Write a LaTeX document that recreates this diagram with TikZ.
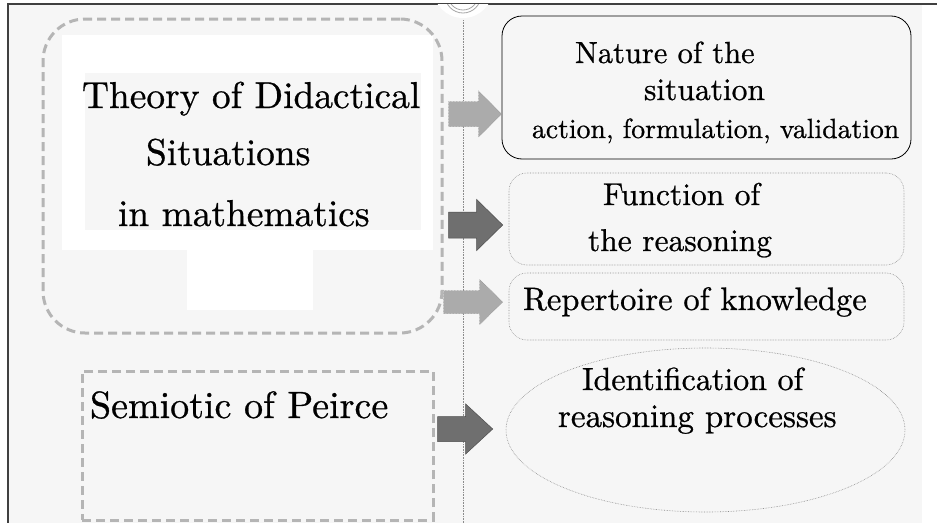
\documentclass[tikz,border=0pt]{standalone}
\usepackage{fontspec}
\setmainfont{lmroman10-regular.otf}[FakeBold=0.7]
\usetikzlibrary{shapes.geometric,calc}
\definecolor{bgg}{HTML}{F6F6F6}
\definecolor{dashg}{HTML}{B5B5B5}
\definecolor{lightarr}{HTML}{ABABAB}
\definecolor{lightarrb}{HTML}{8E8E8E}
\definecolor{darkarr}{HTML}{6F6F6F}
\definecolor{darkarrb}{HTML}{4E4E4E}
\definecolor{dotg}{HTML}{8C8C8C}
\newcommand{\blockarr}[6]{%
  \filldraw[#1] ($(#2)+(0,-#4)$) -- ($(#3)+(-#6,-#4)$) -- ($(#3)+(-#6,-#5)$) -- (#3)
    -- ($(#3)+(-#6,#5)$) -- ($(#3)+(-#6,#4)$) -- ($(#2)+(0,#4)$) -- cycle;}
\begin{document}
\begin{tikzpicture}[x=1pt,y=-1pt,
  thickdash/.style={draw=dashg, line width=3pt, dash pattern=on 9pt off 5pt},
  dotbox/.style={draw=dotg, line width=0.6pt, densely dotted, rounded corners=18pt, fill=bgg},
  txt/.style={anchor=base west, inner sep=0pt, outer sep=0pt},
  lightA/.style={fill=lightarr, draw=lightarrb, line width=0.5pt, densely dotted},
  darkA/.style={fill=darkarr, draw=darkarrb, line width=0.5pt}]
\useasboundingbox (0,0) rectangle (937,525);
\fill[white] (0,0) rectangle (937,525);
% background panel
\fill[bgg] (8,4) rectangle (922,523);
% white patches behind title text
\fill[white] (62,35) rectangle (433,250);
\fill[bgg] (85,73) rectangle (421,230);
\fill[white] (187,250) rectangle (313,310);
% frame lines
\draw[line width=1.2pt, black!75] (937,4) -- (8,4) -- (8,523);
% top ornament
\begin{scope}
\clip (8,4) rectangle (937,60);
\fill[white] (463,-12) circle (30);
\draw[gray!70, line width=0.8pt] (463,-5) circle (18);
\draw[gray!70, line width=0.8pt] (463,-5) circle (15);
\end{scope}
% vertical divider
\draw[dotg, line width=0.6pt, densely dotted] (463,20) -- (463,523);
% left boxes
\node[thickdash, rounded corners=42pt, minimum width=399pt, minimum height=314pt, inner sep=0pt] (tds) at (242.5,176) {};
\node[thickdash, minimum width=351pt, minimum height=149pt, inner sep=0pt] (sem) at (257.5,445.5) {};
% right boxes
\node[draw=black, line width=0.8pt, rounded corners=20pt, fill=bgg, minimum width=409pt, minimum height=143pt, inner sep=0pt] (nat) at (706.5,87.5) {};
\node[dotbox, minimum width=395pt, minimum height=92pt, inner sep=0pt] (fun) at (706.5,219) {};
\node[dotbox, minimum width=395pt, minimum height=67pt, inner sep=0pt] (rep) at (706.5,306.5) {};
\node[ellipse, draw=dotg, line width=0.6pt, densely dotted, fill=bgg, minimum width=399pt, minimum height=164pt, inner sep=0pt] (ide) at (705.5,430) {};
% texts
\node[txt, font=\fontsize{37.4}{40}\selectfont] (t1) at (82,108) {Theory of Didactical};
\node[txt, font=\fontsize{37.4}{40}\selectfont] (t2) at (146,165) {Situations};
\node[txt, font=\fontsize{37.4}{40}\selectfont] (t3) at (118,226) {in mathematics};
\node[txt, font=\fontsize{38}{40}\selectfont] (t4) at (90,418) {Semiotic of Peirce};
\node[txt, font=\fontsize{30.5}{34}\selectfont] (n1) at (575,63) {Nature of the};
\node[txt, font=\fontsize{31.5}{34}\selectfont] (n2) at (644,100) {situation};
\node[txt, font=\fontsize{27.7}{30}\selectfont] (n3) at (532,138) {action, formulation, validation};
\node[txt, font=\fontsize{31.5}{34}\selectfont] (f1) at (603,205) {Function of};
\node[txt, font=\fontsize{31.5}{34}\selectfont] (f2) at (588,251) {the reasoning};
\node[txt, font=\fontsize{32.5}{34}\selectfont] (r1) at (523,310) {Repertoire of knowledge};
\node[txt, font=\fontsize{32}{34}\selectfont] (i1) at (582,390) {Identification of};
\node[txt, font=\fontsize{33}{34}\selectfont] (i2) at (558,427) {reasoning processes};
% block arrows
\coordinate (a1s) at ($(tds.east |- 0,114)+(5,0)$);
\coordinate (a1t) at (nat.west |- 0,114);
\coordinate (a2s) at ($(tds.east |- 0,225)+(5,0)$);
\coordinate (a2t) at ($(fun.west |- 0,225)+(-6,0)$);
\coordinate (a3s) at ($(tds.east |- 0,302)+(0,0)$);
\coordinate (a3t) at ($(rep.west |- 0,302)+(-6,0)$);
\coordinate (a4s) at ($(sem.east |- 0,429)+(3,0)$);
\coordinate (a4t) at ($(ide.west |- 0,429)+(-13,0)$);
\blockarr{lightA}{a1s}{a1t}{12.5}{23}{23}
\blockarr{darkA}{a2s}{a2t}{13}{25.5}{26}
\blockarr{lightA}{a3s}{a3t}{11.5}{22.5}{23}
\blockarr{darkA}{a4s}{a4t}{12.5}{25}{27}
\end{tikzpicture}
\end{document}
